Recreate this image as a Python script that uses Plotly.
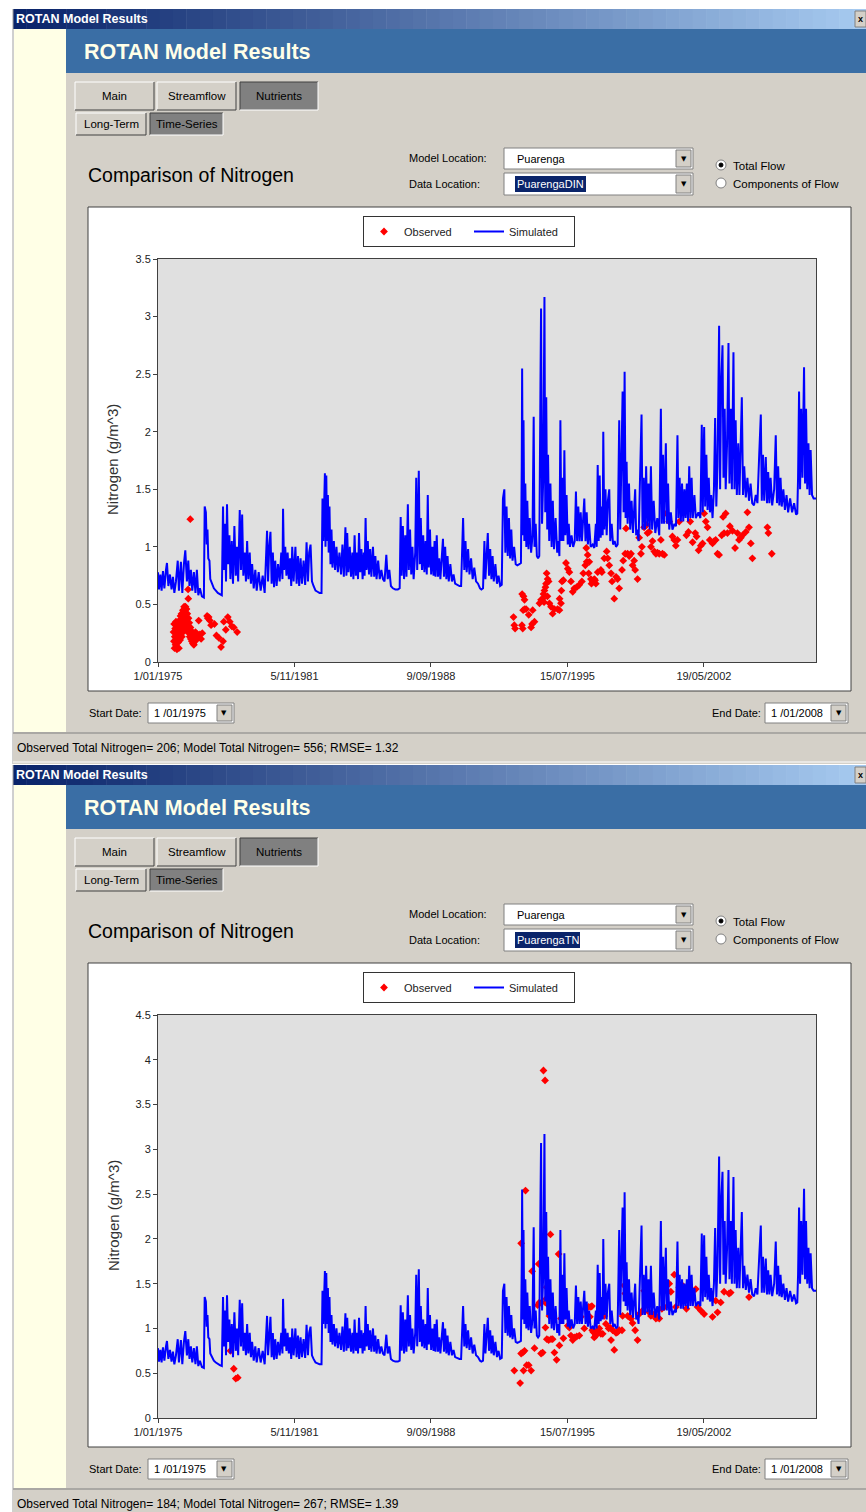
import pandas as pd
import plotly.graph_objects as go

W, H = 866, 1512

# ---- simulated nitrogen (g/m^3), Puarenga model location: (decimal year, value)
sim_1975 = [
    (1975.00, 0.78), (1975.05, 0.63), (1975.12, 0.76), (1975.18, 0.62), (1975.25, 0.79), (1975.32, 0.64),
    (1975.40, 0.80), (1975.45, 0.86), (1975.52, 0.66), (1975.60, 0.76), (1975.68, 0.63), (1975.75, 0.74),
    (1975.82, 0.60), (1975.90, 0.70), (1975.99, 0.88), (1976.05, 0.62), (1976.15, 0.87), (1976.22, 0.60),
    (1976.30, 0.85), (1976.37, 0.97), (1976.45, 0.70), (1976.52, 0.88), (1976.58, 0.66), (1976.65, 0.80),
    (1976.72, 0.62), (1976.80, 0.78), (1976.88, 0.60), (1976.95, 0.80), (1977.02, 0.58), (1977.10, 0.64),
    (1977.20, 0.57), (1977.30, 0.56), (1977.34, 1.35), (1977.40, 1.30), (1977.44, 1.02), (1977.48, 1.15),
    (1977.52, 0.90), (1977.58, 0.88), (1977.62, 0.72), (1977.70, 0.68), (1977.80, 0.64), (1977.90, 0.62),
    (1978.00, 0.60), (1978.10, 0.59), (1978.20, 0.58),
]
sim_1978 = [
    (1978.26, 1.35), (1978.30, 0.80), (1978.36, 1.20), (1978.41, 0.70), (1978.46, 1.37), (1978.52, 0.85),
    (1978.58, 1.10), (1978.63, 0.72), (1978.70, 1.05), (1978.76, 0.68), (1978.83, 1.18), (1978.90, 0.75),
    (1978.96, 1.00), (1979.02, 0.70), (1979.10, 1.32), (1979.16, 0.80), (1979.22, 1.28), (1979.28, 0.75),
    (1979.35, 0.95), (1979.41, 0.70), (1979.47, 1.05), (1979.53, 0.72), (1979.60, 0.95), (1979.66, 0.68),
    (1979.72, 0.85), (1979.80, 0.64), (1979.88, 0.80), (1979.95, 0.62), (1980.05, 0.78), (1980.15, 0.62),
    (1980.25, 0.75), (1980.35, 0.60), (1980.47, 1.14), (1980.52, 0.70), (1980.58, 1.00), (1980.64, 1.13),
    (1980.70, 0.68), (1980.76, 0.95), (1980.82, 0.65), (1980.88, 0.88), (1980.95, 0.66), (1981.02, 0.85),
    (1981.10, 0.70), (1981.18, 0.95), (1981.24, 0.72), (1981.27, 1.33), (1981.32, 0.80), (1981.38, 1.00),
    (1981.44, 0.75), (1981.50, 0.95), (1981.56, 0.72), (1981.62, 0.90), (1981.68, 0.66), (1981.73, 1.00),
    (1981.80, 0.70), (1981.89, 1.00), (1981.95, 0.68), (1982.02, 0.92), (1982.08, 0.66), (1982.15, 0.90),
    (1982.22, 0.68), (1982.30, 0.88), (1982.38, 0.67), (1982.45, 1.04), (1982.52, 0.70), (1982.58, 0.95),
    (1982.65, 1.02), (1982.72, 0.70), (1982.80, 0.66), (1982.90, 0.62), (1983.00, 0.61), (1983.10, 0.60),
    (1983.20, 0.60), (1983.25, 1.42), (1983.29, 1.05), (1983.33, 1.60), (1983.37, 1.64), (1983.40, 1.00),
    (1983.44, 1.62), (1983.48, 1.05), (1983.52, 1.45), (1983.56, 0.95), (1983.60, 1.35), (1983.65, 0.85),
    (1983.70, 1.15), (1983.75, 0.82), (1983.82, 1.05), (1983.88, 0.80), (1983.95, 1.00), (1984.02, 0.78),
    (1984.10, 0.95), (1984.18, 0.76), (1984.25, 1.02), (1984.32, 0.74), (1984.40, 1.17), (1984.45, 0.75),
    (1984.49, 1.12),
]
sim_1984 = [
    (1984.55, 0.78), (1984.62, 1.00), (1984.68, 0.74), (1984.75, 0.95), (1984.80, 0.72), (1984.86, 1.10),
    (1984.92, 0.75), (1984.98, 0.95), (1985.03, 0.72), (1985.08, 1.12), (1985.14, 0.78), (1985.20, 0.98),
    (1985.26, 0.72), (1985.32, 0.95), (1985.36, 0.75), (1985.41, 1.25), (1985.46, 0.80), (1985.52, 1.05),
    (1985.58, 0.76), (1985.64, 0.98), (1985.70, 0.74), (1985.78, 1.00), (1985.84, 0.74), (1985.90, 0.92),
    (1985.96, 0.72), (1986.04, 0.88), (1986.12, 0.72), (1986.20, 0.80), (1986.28, 0.72), (1986.36, 0.70),
    (1986.45, 0.93), (1986.52, 0.72), (1986.60, 0.80), (1986.68, 0.66), (1986.78, 0.64), (1986.90, 0.63),
    (1987.03, 0.63), (1987.12, 0.64), (1987.17, 1.26), (1987.22, 0.75), (1987.28, 1.18), (1987.34, 0.72),
    (1987.40, 1.10), (1987.46, 0.74), (1987.53, 1.37), (1987.58, 0.80), (1987.64, 1.15), (1987.70, 0.76),
    (1987.76, 1.00), (1987.82, 0.72), (1987.90, 0.95), (1987.95, 1.60), (1988.00, 0.80), (1988.04, 1.10),
    (1988.08, 1.66), (1988.13, 0.85), (1988.18, 1.25), (1988.24, 0.80), (1988.30, 1.10), (1988.36, 0.78),
    (1988.42, 1.05), (1988.48, 0.76), (1988.53, 1.45), (1988.58, 0.82), (1988.64, 1.15), (1988.70, 0.76),
    (1988.76, 1.00), (1988.82, 0.75), (1988.87, 1.05), (1988.92, 0.74), (1988.98, 1.10), (1989.04, 0.74),
    (1989.10, 0.90), (1989.16, 0.72), (1989.22, 0.85), (1989.29, 1.07), (1989.34, 0.74), (1989.40, 1.00),
    (1989.46, 0.72), (1989.52, 0.92), (1989.58, 0.70), (1989.66, 0.85), (1989.74, 0.70), (1989.82, 0.76),
    (1989.90, 0.68), (1990.00, 0.67), (1990.12, 0.66), (1990.20, 0.66), (1990.30, 1.25), (1990.36, 0.80),
    (1990.42, 1.05), (1990.48, 0.78), (1990.55, 0.98), (1990.62, 0.76), (1990.70, 0.90), (1990.78, 0.72),
    (1990.86, 0.82), (1990.95, 0.70), (1991.05, 0.68), (1991.15, 0.64), (1991.22, 0.63), (1991.30, 0.64),
    (1991.37, 1.05), (1991.42, 0.72), (1991.48, 0.95), (1991.54, 1.12), (1991.60, 0.75), (1991.66, 0.98),
    (1991.72, 0.72), (1991.78, 0.92), (1991.84, 0.70), (1991.92, 0.85), (1992.00, 0.68), (1992.08, 0.75),
    (1992.16, 0.66), (1992.24, 0.67), (1992.30, 1.42), (1992.37, 1.50), (1992.42, 0.95), (1992.48, 1.35),
    (1992.54, 0.92), (1992.60, 1.25), (1992.66, 0.90), (1992.72, 1.15), (1992.78, 0.88), (1992.86, 1.00),
    (1992.94, 0.85), (1993.02, 0.84), (1993.12, 0.85), (1993.20, 0.86),
]
sim_1993 = [
    (1993.24, 1.70), (1993.26, 2.55), (1993.30, 1.10), (1993.33, 2.10), (1993.37, 1.05), (1993.42, 1.55),
    (1993.47, 1.00), (1993.52, 1.40), (1993.58, 0.98), (1993.64, 1.25), (1993.71, 0.95), (1993.78, 1.10),
    (1993.84, 2.13), (1993.88, 1.00), (1993.94, 1.20), (1994.00, 0.92), (1994.06, 0.90), (1994.12, 0.92),
    (1994.18, 2.40), (1994.21, 3.07), (1994.26, 1.20), (1994.32, 1.60), (1994.38, 3.17), (1994.42, 1.30),
    (1994.47, 2.30), (1994.52, 1.15), (1994.56, 1.80), (1994.62, 1.05), (1994.68, 1.55), (1994.74, 1.00),
    (1994.80, 1.40), (1994.86, 0.98), (1994.94, 1.25), (1995.02, 0.95), (1995.08, 1.05), (1995.13, 0.92),
    (1995.18, 2.10), (1995.23, 1.05), (1995.28, 1.60), (1995.33, 1.05), (1995.38, 1.84), (1995.43, 1.10),
    (1995.49, 1.45), (1995.55, 1.02), (1995.60, 1.20), (1995.66, 1.00), (1995.74, 1.10), (1995.82, 1.00),
    (1995.90, 1.05), (1995.96, 1.48), (1996.02, 1.05), (1996.08, 1.35), (1996.14, 1.05), (1996.20, 1.30),
    (1996.26, 1.05), (1996.32, 1.25), (1996.38, 1.42), (1996.44, 1.05), (1996.50, 1.30), (1996.56, 1.02),
    (1996.62, 1.20), (1996.70, 1.00), (1996.80, 1.02), (1996.88, 0.99), (1996.96, 1.20), (1997.00, 1.00),
]
sim_1997 = [
    (1997.05, 1.71), (1997.10, 1.05), (1997.15, 1.62), (1997.20, 1.08), (1997.26, 1.35), (1997.30, 1.10),
    (1997.33, 2.00), (1997.38, 1.15), (1997.44, 1.50), (1997.50, 1.10), (1997.56, 1.40), (1997.63, 1.50),
    (1997.68, 1.05), (1997.75, 1.20), (1997.82, 1.02), (1997.90, 1.05), (1997.97, 1.00), (1998.05, 1.02),
    (1998.10, 1.95), (1998.13, 2.10), (1998.18, 1.15), (1998.24, 1.80), (1998.30, 2.35), (1998.35, 1.30),
    (1998.40, 2.52), (1998.45, 1.25), (1998.50, 1.74), (1998.55, 1.20), (1998.62, 1.55), (1998.68, 1.15),
    (1998.75, 1.40), (1998.82, 1.12), (1998.88, 1.30), (1998.93, 1.50), (1998.98, 1.10), (1999.04, 1.15),
    (1999.10, 1.05), (1999.20, 1.80), (1999.25, 2.15), (1999.30, 1.15), (1999.36, 1.60), (1999.42, 1.15),
    (1999.48, 1.70), (1999.54, 1.18), (1999.60, 1.55), (1999.66, 1.15), (1999.72, 1.70), (1999.78, 1.15),
    (1999.86, 1.40), (1999.94, 1.12), (2000.04, 1.25), (2000.14, 1.10), (2000.20, 1.85), (2000.22, 2.20),
    (2000.27, 1.20), (2000.33, 1.80), (2000.38, 1.20), (2000.44, 1.70), (2000.47, 1.90), (2000.52, 1.20),
    (2000.58, 1.55), (2000.64, 1.15), (2000.72, 1.30), (2000.80, 1.15), (2000.90, 1.20), (2000.98, 1.18),
    (2001.05, 1.97), (2001.10, 1.25), (2001.16, 1.60), (2001.22, 1.22), (2001.28, 1.55), (2001.34, 1.22),
    (2001.40, 1.50), (2001.46, 1.25), (2001.52, 1.55), (2001.58, 1.22), (2001.64, 1.70), (2001.70, 1.25),
    (2001.76, 1.60), (2001.82, 1.25), (2001.90, 1.45), (2001.97, 1.25), (2002.10, 1.30), (2002.20, 1.25),
]
sim_2002 = [
    (2002.25, 2.00), (2002.27, 2.06), (2002.32, 1.30), (2002.39, 2.04), (2002.44, 1.35), (2002.50, 1.80),
    (2002.56, 1.32), (2002.62, 1.60), (2002.68, 1.30), (2002.74, 1.45), (2002.81, 1.25), (2002.88, 1.50),
    (2002.94, 2.12), (2003.00, 1.35), (2003.06, 1.70), (2003.10, 2.50), (2003.14, 2.92), (2003.19, 1.50),
    (2003.24, 2.40), (2003.31, 2.75), (2003.36, 1.60), (2003.42, 2.20), (2003.47, 1.50), (2003.54, 1.90),
    (2003.61, 2.77), (2003.66, 1.55), (2003.73, 2.20), (2003.78, 1.50), (2003.86, 2.69), (2003.91, 1.50),
    (2003.97, 2.10), (2004.03, 1.45), (2004.10, 1.90), (2004.16, 1.45), (2004.22, 1.80), (2004.28, 2.30),
    (2004.34, 1.45), (2004.40, 1.70), (2004.48, 1.43), (2004.56, 1.60), (2004.64, 1.40), (2004.72, 1.55),
    (2004.80, 1.38), (2004.89, 1.36), (2004.98, 1.45), (2005.06, 1.38), (2005.15, 1.80), (2005.23, 2.15),
    (2005.28, 1.40), (2005.34, 1.80), (2005.40, 1.40), (2005.48, 1.78), (2005.54, 1.38), (2005.60, 1.65),
    (2005.66, 1.38), (2005.72, 1.60), (2005.80, 1.36), (2005.90, 1.50), (2005.98, 1.97), (2006.04, 1.38),
    (2006.10, 1.70), (2006.16, 1.36), (2006.22, 1.60), (2006.28, 1.35), (2006.36, 1.50), (2006.44, 1.32),
    (2006.52, 1.45), (2006.60, 1.30), (2006.70, 1.42), (2006.80, 1.30), (2006.90, 1.38), (2007.00, 1.28),
    (2007.06, 1.29), (2007.10, 1.60), (2007.15, 2.35), (2007.20, 1.50), (2007.26, 2.20), (2007.32, 1.60),
    (2007.40, 2.56), (2007.45, 1.55), (2007.50, 2.20), (2007.56, 1.50), (2007.62, 1.90), (2007.68, 1.45),
    (2007.73, 1.84), (2007.80, 1.45), (2007.88, 1.42), (2007.95, 1.42), (2008.00, 1.42),
]

# ---- observed DIN (PuarengaDIN)
din_1975 = [
    (1975.78, 0.26), (1975.80, 0.18), (1975.81, 0.33), (1975.83, 0.12), (1975.84, 0.22), (1975.86, 0.29),
    (1975.88, 0.15), (1975.90, 0.35), (1975.91, 0.20), (1975.93, 0.26), (1975.95, 0.11), (1975.96, 0.30),
    (1975.98, 0.22), (1976.00, 0.34), (1976.01, 0.17), (1976.03, 0.27), (1976.05, 0.12), (1976.06, 0.36),
    (1976.08, 0.24), (1976.10, 0.30), (1976.11, 0.19), (1976.13, 0.40), (1976.15, 0.28), (1976.16, 0.33),
    (1976.18, 0.42), (1976.20, 0.22), (1976.21, 0.37), (1976.23, 0.30), (1976.25, 0.45), (1976.26, 0.26),
    (1976.28, 0.40), (1976.30, 0.34), (1976.31, 0.48), (1976.33, 0.30), (1976.35, 0.45), (1976.36, 0.38),
    (1976.38, 0.48), (1976.40, 0.42), (1976.41, 0.36), (1976.43, 0.46), (1976.45, 0.32), (1976.47, 0.42),
    (1976.49, 0.28), (1976.51, 0.63), (1976.52, 0.55), (1976.53, 0.38), (1976.55, 0.25), (1976.57, 0.34),
    (1976.59, 0.22), (1976.62, 1.24), (1976.63, 0.30), (1976.65, 0.20), (1976.68, 0.27), (1976.70, 0.18),
    (1976.73, 0.24), (1976.75, 0.16), (1976.78, 0.22), (1976.80, 0.15), (1976.84, 0.20), (1976.88, 0.26),
    (1976.92, 0.19), (1976.96, 0.24), (1977.00, 0.22), (1977.04, 0.36), (1977.10, 0.24), (1977.16, 0.20),
    (1977.22, 0.25), (1977.46, 0.40), (1977.50, 0.38), (1977.54, 0.39), (1977.60, 0.36), (1977.66, 0.32),
    (1977.83, 0.33), (1977.93, 0.23), (1978.05, 0.21), (1978.16, 0.13), (1978.26, 0.18), (1978.30, 0.35),
    (1978.40, 0.28), (1978.50, 0.39), (1978.60, 0.35), (1978.70, 0.31), (1978.80, 0.30), (1978.97, 0.26),
]
din_1992 = [
    (1992.83, 0.39), (1992.87, 0.32), (1992.91, 0.29), (1993.26, 0.59), (1993.33, 0.57), (1993.38, 0.54),
    (1993.31, 0.45), (1993.39, 0.46), (1993.25, 0.32), (1993.29, 0.29), (1993.59, 0.41), (1993.46, 0.46),
    (1993.79, 0.45), (1993.76, 0.33), (1993.88, 0.35), (1993.71, 0.30), (1994.13, 0.51), (1994.21, 0.54),
    (1994.29, 0.55), (1994.33, 0.59), (1994.38, 0.62), (1994.46, 0.68), (1994.49, 0.77), (1994.54, 0.72),
    (1994.43, 0.65), (1994.59, 0.70), (1994.53, 0.57), (1994.36, 0.52), (1994.63, 0.51), (1994.71, 0.48),
    (1994.79, 0.42), (1994.88, 0.46), (1995.04, 0.46), (1995.13, 0.45), (1995.21, 0.51), (1995.14, 0.55),
    (1995.23, 0.62), (1995.26, 0.70), (1995.33, 0.71), (1995.46, 0.86), (1995.55, 0.81), (1995.63, 0.78),
    (1995.71, 0.70), (1995.80, 0.61), (1995.88, 0.64), (1996.00, 0.65), (1996.13, 0.67), (1996.26, 0.70),
    (1996.33, 0.77), (1996.43, 0.84), (1996.50, 0.87), (1996.55, 0.93), (1996.48, 0.99), (1996.60, 0.77),
    (1996.71, 0.72), (1996.80, 0.70), (1996.88, 0.72), (1997.05, 0.78), (1996.63, 0.87), (1996.74, 0.68),
    (1996.92, 0.71), (1996.96, 0.68),
]
din_1997 = [
    (1997.21, 0.80), (1997.26, 0.78), (1997.38, 0.90), (1997.50, 0.96), (1997.55, 0.90), (1997.63, 0.84),
    (1997.72, 0.77), (1997.77, 0.70), (1997.88, 0.55), (1997.97, 0.74), (1998.05, 0.72), (1998.13, 0.64),
    (1998.27, 0.80), (1998.33, 0.88), (1998.43, 0.94), (1998.47, 1.16), (1998.55, 0.94), (1998.63, 0.92),
    (1998.72, 0.94), (1998.80, 0.84), (1998.88, 0.88), (1998.93, 0.80), (1999.05, 0.72), (1999.13, 1.08),
    (1999.22, 0.94), (1999.27, 1.00), (1999.38, 1.17), (1999.50, 1.19), (1999.55, 1.12), (1999.63, 1.13),
    (1999.72, 1.00), (1999.80, 1.05), (1999.89, 0.96), (1999.97, 0.94), (2000.05, 0.95), (2000.14, 0.94),
    (2000.22, 1.06), (2000.30, 0.94), (2000.39, 0.93), (2000.50, 1.29), (2000.64, 1.22), (2000.80, 1.09),
    (2000.89, 1.06), (2000.97, 1.01), (2001.05, 1.06), (2001.14, 1.22), (2001.39, 1.30), (2001.50, 1.10),
    (2001.60, 1.13), (2001.69, 1.22), (2001.81, 1.04), (2001.94, 1.12), (2002.01, 1.09), (2002.11, 0.97),
    (2002.22, 1.01), (2002.31, 1.03), (2002.39, 1.29), (2002.47, 1.22), (2002.56, 1.17), (2002.67, 1.06),
    (2002.81, 1.03), (2002.89, 1.05), (2002.97, 1.06), (2003.06, 0.94), (2003.14, 0.93), (2003.27, 1.10),
    (2003.34, 1.26), (2003.39, 1.12), (2003.47, 1.29), (2003.56, 1.12), (2003.68, 1.18), (2003.81, 1.14),
    (2003.94, 0.99), (2004.06, 1.12), (2004.14, 1.06), (2004.23, 1.08), (2004.31, 1.10), (2004.48, 1.13),
    (2004.56, 1.30), (2004.64, 1.17), (2004.73, 1.03), (2004.81, 0.90), (2005.56, 1.17), (2005.61, 1.12),
    (2005.78, 0.94),
]

# ---- observed TN (PuarengaTN)
tn_1978 = [(1978.63, 0.75), (1978.80, 0.55), (1978.90, 0.44), (1979.00, 0.45)]
tn_1992 = [
    (1992.87, 0.53), (1993.16, 0.39), (1993.21, 0.72), (1993.29, 0.73), (1993.38, 0.75), (1993.33, 0.53),
    (1993.43, 2.54), (1993.21, 1.95), (1993.49, 0.59), (1993.59, 0.59), (1993.71, 0.53), (1993.76, 1.64),
    (1993.88, 0.78), (1994.09, 1.72), (1994.13, 1.29), (1994.04, 1.26), (1994.21, 0.72), (1994.29, 0.73),
    (1994.33, 3.88), (1994.41, 3.77), (1994.42, 1.29), (1994.46, 1.33), (1994.49, 1.46), (1994.54, 1.27),
    (1994.43, 1.01), (1994.50, 0.88), (1994.59, 0.87), (1994.63, 1.14), (1994.68, 2.05), (1994.71, 0.88),
    (1994.79, 0.88), (1994.88, 0.73), (1994.99, 0.65), (1995.09, 1.83), (1995.13, 0.81), (1995.21, 1.11),
    (1995.33, 0.89), (1995.46, 1.14), (1995.55, 1.03), (1995.63, 1.01), (1995.71, 0.92), (1995.80, 0.87),
    (1995.88, 0.90), (1996.00, 0.91), (1996.13, 0.92), (1996.21, 1.13), (1996.38, 1.00), (1996.60, 1.24),
    (1996.66, 1.13), (1996.76, 1.25), (1996.83, 0.96), (1996.96, 0.92),
]
tn_1997 = [
    (1997.05, 0.98), (1996.71, 1.24), (1996.78, 0.98), (1996.88, 0.90), (1997.13, 1.00), (1997.21, 0.94),
    (1997.30, 0.94), (1997.38, 1.14), (1997.46, 1.05), (1997.60, 1.00), (1997.67, 1.01), (1997.72, 0.87),
    (1997.80, 0.98), (1997.88, 0.76), (1997.97, 0.95), (1998.05, 0.96), (1998.13, 0.98), (1998.27, 0.98),
    (1998.30, 1.14), (1998.38, 1.48), (1998.43, 1.39), (1998.55, 1.14), (1998.63, 1.13), (1998.72, 1.11),
    (1998.80, 1.06), (1998.93, 0.98), (1999.05, 0.87), (1999.13, 1.16), (1999.30, 1.20), (1999.38, 1.42),
    (1999.47, 1.26), (1999.63, 1.18), (1999.72, 1.14), (1999.89, 1.16), (1999.97, 1.11), (2000.05, 1.12),
    (2000.14, 1.11), (2000.27, 1.22), (2000.39, 1.24), (2000.50, 1.42), (2000.64, 1.50), (2000.72, 1.41),
    (2000.89, 1.60), (2000.97, 1.24), (2001.14, 1.46), (2001.30, 1.48), (2001.50, 1.22), (2001.64, 1.41),
    (2001.97, 1.44), (2002.06, 1.24), (2002.22, 1.20), (2002.39, 1.16), (2002.47, 1.51), (2002.64, 1.41),
    (2002.81, 1.13), (2002.97, 1.31), (2003.06, 1.18), (2003.22, 1.29), (2003.39, 1.41), (2003.64, 1.39),
    (2003.72, 1.40), (2004.64, 1.35),
]

tick_dates = ["1975-01-01", "1981-11-05", "1988-09-09", "1995-07-15", "2002-05-19"]
tick_text = ["1/01/1975", "5/11/1981", "9/09/1988", "15/07/1995", "19/05/2002"]

panels = [
    dict(top=0, ymax=3.5, data_loc="PuarengaDIN", hl_w=71,
         status="Observed Total Nitrogen= 206; Model Total Nitrogen= 556; RMSE= 1.32"),
    dict(top=756, ymax=4.5, data_loc="PuarengaTN", hl_w=65,
         status="Observed Total Nitrogen= 184; Model Total Nitrogen= 267; RMSE= 1.39"),
]

UI = "Liberation Sans"


def to_dates(years):
    out = []
    for y in years:
        out.append(pd.Timestamp(int(y), 1, 1) + pd.Timedelta(days=(y - int(y)) * 365.25))
    return out


def X(px):
    return px / W


def Y(py):
    return 1 - py / H


shapes = []
annots = []


def rect(x0, y0, x1, y1, fill, line=None, lw=1):
    shapes.append(dict(type="rect", xref="paper", yref="paper", layer="below",
                       x0=X(x0), x1=X(x1), y0=Y(y1), y1=Y(y0), fillcolor=fill,
                       line=dict(color=line if line else fill, width=lw if line else 0)))


def seg(x0, y0, x1, y1, color, lw=1):
    shapes.append(dict(type="line", xref="paper", yref="paper", layer="below",
                       x0=X(x0), x1=X(x1), y0=Y(y0), y1=Y(y1), line=dict(color=color, width=lw)))


def circle(cx, cy, r, fill, line):
    shapes.append(dict(type="circle", xref="paper", yref="paper", layer="below",
                       x0=X(cx - r), x1=X(cx + r), y0=Y(cy + r), y1=Y(cy - r),
                       fillcolor=fill, line=dict(color=line, width=1)))


def text(x, y, s, size=11, color="black", anchor="left", angle=0, family=UI):
    annots.append(dict(xref="paper", yref="paper", x=X(x), y=Y(y), text=s, showarrow=False,
                       xanchor=anchor, yanchor="middle", textangle=angle,
                       font=dict(size=size, color=color, family=family)))


def button(x0, y0, x1, y1, label, pressed=False):
    rect(x0, y0, x1, y1, "#808080" if pressed else "#D4D0C8")
    hi, lo = ("#404040", "#FFFFFF") if pressed else ("#FFFFFF", "#404040")
    seg(x0, y0, x1, y0, hi)
    seg(x0, y0, x0, y1, hi)
    seg(x0, y1, x1, y1, lo)
    seg(x1, y0, x1, y1, lo)
    text((x0 + x1) / 2, (y0 + y1) / 2, label, 11.5, "black", "center")


def combo(x0, y0, x1, y1, value, hl_w=0):
    rect(x0, y0, x1, y1, "white", "#808080")
    rect(x1 - 17, y0 + 2, x1 - 2, y1 - 2, "#D4D0C8", "#808080")
    text(x1 - 9.5, (y0 + y1) / 2, "\u25BC", 7, "black", "center", family="DejaVu Sans")
    if hl_w:
        rect(x0 + 11, y0 + 3, x0 + 11 + hl_w, y1 - 3, "#0A246A")
        text(x0 + 11, (y0 + y1) / 2, value, 11, "white")
    else:
        text(x0 + 11, (y0 + y1) / 2, value, 11, "black")


for p in panels:
    o = p["top"]
    # window title bar with its gradient
    n = 64
    for i in range(n):
        t = i / (n - 1)
        c = (int(10 + t * 156), int(36 + t * 166), int(106 + t * 134))
        rect(13 + i * (853 / n), 9 + o, 13 + (i + 1) * (853 / n) + 0.5, 29 + o, "rgb(%d,%d,%d)" % c)
    text(14, 19 + o, "<b>ROTAN Model Results</b>", 12.5, "white")
    rect(855, 11 + o, 866, 27 + o, "#D4D0C8", "#808080")
    text(860, 19 + o, "<b>x</b>", 9, "black", "center")
    seg(13, 9 + o, 13, 764 + o, "#A0A0A0")
    # body
    rect(14, 29 + o, 66, 732 + o, "#FFFFE6")
    rect(66, 29 + o, 866, 73 + o, "#3A6EA5")
    text(82, 52 + o, "<b>ROTAN Model Results</b>", 21.5, "#FFFFE8")
    rect(66, 73 + o, 866, 732 + o, "#D4D0C8")
    button(75, 82 + o, 154, 110 + o, "Main")
    button(157, 82 + o, 236, 110 + o, "Streamflow")
    button(240, 82 + o, 318, 110 + o, "Nutrients", pressed=True)
    button(76, 113 + o, 146, 135 + o, "Long-Term")
    button(150, 113 + o, 223, 135 + o, "Time-Series", pressed=True)
    text(86, 175 + o, "Comparison of Nitrogen", 19.5)
    text(407, 158 + o, "Model Location:", 11)
    text(407, 184 + o, "Data Location:", 11)
    combo(504, 148 + o, 693, 169 + o, "Puarenga")
    combo(504, 173 + o, 693, 195 + o, p["data_loc"], p["hl_w"])
    circle(721, 165 + o, 5, "white", "#808080")
    circle(721, 165 + o, 2, "black", "black")
    circle(721, 183 + o, 5, "white", "#808080")
    text(731, 166 + o, "Total Flow", 11.5)
    text(731, 184 + o, "Components of Flow", 11.5)
    # chart frame and plotting area
    rect(88, 207 + o, 851, 691 + o, "white", "#404040")
    rect(158, 259 + o, 816, 662 + o, "#E0E0E0")
    text(113, 460 + o, "Nitrogen (g/m^3)", 15, "#333333", "center", -90)
    # date pickers
    text(87, 713 + o, "Start Date:", 11)
    rect(148, 703 + o, 234, 723 + o, "white", "#808080")
    rect(217, 705 + o, 232, 721 + o, "#D4D0C8", "#808080")
    text(224.5, 713 + o, "\u25BC", 7, "black", "center", family="DejaVu Sans")
    text(152, 713 + o, "1 /01/1975", 11)
    text(763, 713 + o, "End Date:", 11, "black", "right")
    rect(765, 703 + o, 848, 723 + o, "white", "#808080")
    rect(831, 705 + o, 846, 721 + o, "#D4D0C8", "#808080")
    text(838.5, 713 + o, "\u25BC", 7, "black", "center", family="DejaVu Sans")
    text(769, 713 + o, "1 /01/2008", 11)
    # status bar
    rect(13, 732 + o, 866, 764 + o, "#D4D0C8")
    seg(13, 733 + o, 866, 733 + o, "#808080")
    seg(13, 762 + o, 866, 762 + o, "#FFFFFF")
    text(15, 748 + o, p["status"], 12)

sim = sim_1975 + sim_1978 + sim_1984 + sim_1993 + sim_1997 + sim_2002
sim_dates = to_dates([a for a, b in sim])
sim_vals = [b for a, b in sim]
observed = [din_1975 + din_1992 + din_1997, tn_1978 + tn_1992 + tn_1997]

fig = go.Figure()
axes = {}
for k, p in enumerate(panels):
    o = p["top"]
    sfx = "" if k == 0 else str(k + 1)
    leg = "legend" + sfx
    obs = observed[k]
    fig.add_trace(go.Scatter(
        x=to_dates([a for a, b in obs]), y=[b for a, b in obs], mode="markers", name="Observed",
        marker=dict(symbol="diamond", size=6, color="#FF0000"),
        xaxis="x" + sfx, yaxis="y" + sfx, legend=leg))
    fig.add_trace(go.Scatter(
        x=sim_dates, y=sim_vals, mode="lines", name="Simulated",
        line=dict(color="#0000FF", width=2),
        xaxis="x" + sfx, yaxis="y" + sfx, legend=leg))
    axis_style = dict(showline=True, linecolor="#404040", linewidth=1, mirror=True,
                      ticks="outside", ticklen=4, tickcolor="#404040", showgrid=False,
                      zeroline=False, automargin=False,
                      tickfont=dict(family=UI, size=11, color="#222222"))
    axes["xaxis" + sfx] = dict(domain=[X(158), X(816)], anchor="y" + sfx, type="date",
                               range=["1975-01-01", "2008-01-01"], tickvals=tick_dates,
                               ticktext=tick_text, **axis_style)
    steps = int(p["ymax"] / 0.5) + 1
    axes["yaxis" + sfx] = dict(domain=[Y(662 + o), Y(259 + o)], anchor="x" + sfx,
                               range=[0, p["ymax"]], tickvals=[i * 0.5 for i in range(steps)],
                               **axis_style)
    axes[leg] = dict(x=X(469), y=Y(216 + o), xanchor="center", yanchor="top", orientation="h",
                     bgcolor="white", bordercolor="#333333", borderwidth=1,
                     entrywidth=60, entrywidthmode="pixels",
                     font=dict(family=UI, size=11, color="#222222"))

fig.update_layout(
    width=W, height=H, margin=dict(l=0, r=0, t=0, b=0, pad=0, autoexpand=False),
    paper_bgcolor="white", plot_bgcolor="rgba(0,0,0,0)",
    showlegend=True, shapes=shapes, annotations=annots, **axes)

# the page body keeps its default 8px margin otherwise
fig.write_html("out.html", config={"displayModeBar": False},
               post_script="document.body.style.margin='0px';")
